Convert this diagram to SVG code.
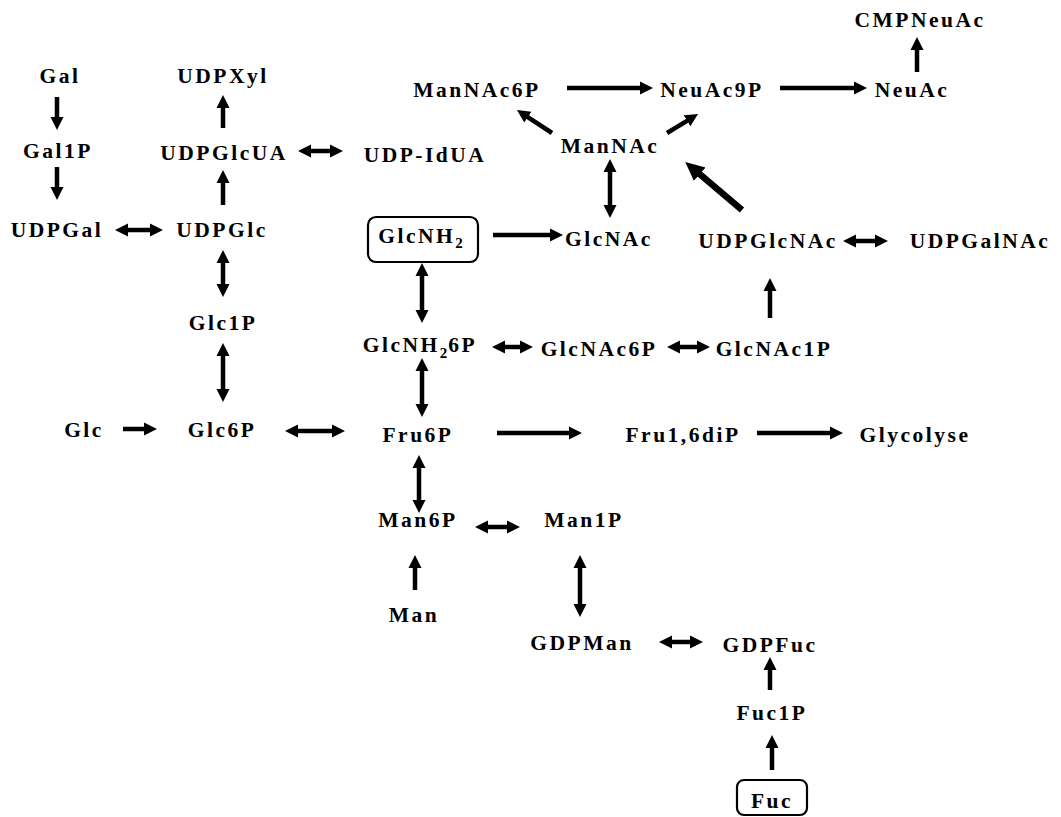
<svg xmlns="http://www.w3.org/2000/svg" width="1061" height="817" viewBox="0 0 1061 817">
  <defs>
    <style>
      text { font-family: "Liberation Serif", "Times New Roman", serif; font-weight: bold; font-size: 21.5px; letter-spacing: 2.5px; fill: #000; text-anchor: middle; }
      .sub { font-size: 15px; letter-spacing: 1px; }
      .box { fill: none; stroke: #000; stroke-width: 2.2; }
      .arr { stroke: #000; stroke-width: 4.5; fill: none; marker-end: url(#head); }
      .dbl { stroke: #000; stroke-width: 4.5; fill: none; marker-start: url(#head); marker-end: url(#head); }
      .big { stroke: #000; stroke-width: 6.5; fill: none; marker-end: url(#bighead); }
    </style>
    <marker id="head" viewBox="0 -7 14 14" refX="1" refY="0" markerWidth="14" markerHeight="14" markerUnits="userSpaceOnUse" orient="auto-start-reverse">
      <path d="M0,-6.5 L13,0 L0,6.5 z" fill="#000"/>
    </marker>
    <marker id="bighead" viewBox="0 -10 20 20" refX="1" refY="0" markerWidth="20" markerHeight="20" markerUnits="userSpaceOnUse" orient="auto">
      <path d="M0,-9 L19,0 L0,9 z" fill="#000"/>
    </marker>
  </defs>
  <rect width="1061" height="817" fill="#fff"/>

  <!-- connectors -->
  <g id="connectors">
    <!-- single-headed -->
    <line class="arr" x1="57" y1="97" x2="57" y2="118"/>
    <line class="arr" x1="57" y1="167" x2="57" y2="188"/>
    <line class="arr" x1="223" y1="205" x2="223" y2="182"/>
    <line class="arr" x1="223" y1="128" x2="223" y2="107"/>
    <line class="arr" x1="917" y1="72" x2="917" y2="49"/>
    <line class="arr" x1="770" y1="318" x2="770" y2="290"/>
    <line class="arr" x1="415" y1="590" x2="415" y2="567"/>
    <line class="arr" x1="770" y1="690" x2="770" y2="669"/>
    <line class="arr" x1="772" y1="770" x2="772" y2="747"/>
    <line class="arr" x1="123" y1="429" x2="145" y2="429"/>
    <line class="arr" x1="493" y1="235" x2="551" y2="235"/>
    <line class="arr" x1="567" y1="88" x2="641" y2="88"/>
    <line class="arr" x1="780" y1="88" x2="855" y2="88"/>
    <line class="arr" x1="497" y1="433" x2="570" y2="433"/>
    <line class="arr" x1="757" y1="433" x2="831" y2="433"/>
    <line class="arr" x1="552" y1="133" x2="527" y2="116.6"/>
    <line class="arr" x1="667" y1="133" x2="687.8" y2="120.3"/>
    <line class="big" x1="742" y1="210" x2="699" y2="173.6"/>
    <!-- double-headed -->
    <line class="dbl" x1="223" y1="262" x2="223" y2="285"/>
    <line class="dbl" x1="223" y1="355" x2="223" y2="390"/>
    <line class="dbl" x1="422" y1="275" x2="422" y2="311"/>
    <line class="dbl" x1="422" y1="370" x2="422" y2="405"/>
    <line class="dbl" x1="610" y1="171" x2="610" y2="206"/>
    <line class="dbl" x1="419" y1="467" x2="419" y2="501"/>
    <line class="dbl" x1="580" y1="567" x2="580" y2="605"/>
    <line class="dbl" x1="127" y1="230" x2="151" y2="230"/>
    <line class="dbl" x1="310" y1="151" x2="331" y2="151"/>
    <line class="dbl" x1="855" y1="241" x2="876" y2="241"/>
    <line class="dbl" x1="504" y1="347" x2="521" y2="347"/>
    <line class="dbl" x1="679" y1="347" x2="698" y2="347"/>
    <line class="dbl" x1="297" y1="431" x2="333" y2="431"/>
    <line class="dbl" x1="487" y1="527" x2="508" y2="527"/>
    <line class="dbl" x1="671" y1="642" x2="691" y2="642"/>
  </g>

  <!-- nodes -->
  <g id="n-CMPNeuAc"><text x="920" y="27">CMPNeuAc</text></g>
  <g id="n-Gal"><text x="60" y="83">Gal</text></g>
  <g id="n-UDPXyl"><text x="223" y="83">UDPXyl</text></g>
  <g id="n-ManNAc6P"><text x="477" y="97">ManNAc6P</text></g>
  <g id="n-NeuAc9P"><text x="712" y="97">NeuAc9P</text></g>
  <g id="n-NeuAc"><text x="912" y="97">NeuAc</text></g>
  <g id="n-Gal1P"><text x="58" y="158">Gal1P</text></g>
  <g id="n-UDPGlcUA"><text x="224" y="160">UDPGlcUA</text></g>
  <g id="n-UDP-IdUA"><text x="425" y="162">UDP-IdUA</text></g>
  <g id="n-ManNAc"><text x="610" y="153">ManNAc</text></g>
  <g id="n-UDPGal"><text x="57" y="237">UDPGal</text></g>
  <g id="n-UDPGlc"><text x="222" y="237">UDPGlc</text></g>
  <g id="n-GlcNH2">
    <rect class="box" x="368" y="217" width="110" height="45" rx="8"/>
    <text x="421" y="243">GlcNH<tspan class="sub" dy="5">2</tspan></text>
  </g>
  <g id="n-GlcNAc"><text x="609" y="246">GlcNAc</text></g>
  <g id="n-UDPGlcNAc"><text x="768" y="248">UDPGlcNAc</text></g>
  <g id="n-UDPGalNAc"><text x="980" y="248">UDPGalNAc</text></g>
  <g id="n-Glc1P"><text x="223" y="330">Glc1P</text></g>
  <g id="n-GlcNH26P"><text x="420" y="352">GlcNH<tspan class="sub" dy="6">2</tspan><tspan dy="-6">6P</tspan></text></g>
  <g id="n-GlcNAc6P"><text x="599" y="356">GlcNAc6P</text></g>
  <g id="n-GlcNAc1P"><text x="774" y="356">GlcNAc1P</text></g>
  <g id="n-Glc"><text x="84" y="437">Glc</text></g>
  <g id="n-Glc6P"><text x="222" y="437">Glc6P</text></g>
  <g id="n-Fru6P"><text x="418" y="442">Fru6P</text></g>
  <g id="n-Fru16diP"><text x="683" y="442">Fru1,6diP</text></g>
  <g id="n-Glycolyse"><text x="915" y="442">Glycolyse</text></g>
  <g id="n-Man6P"><text x="418" y="527">Man6P</text></g>
  <g id="n-Man1P"><text x="584" y="527">Man1P</text></g>
  <g id="n-Man"><text x="414" y="622">Man</text></g>
  <g id="n-GDPMan"><text x="582" y="650">GDPMan</text></g>
  <g id="n-GDPFuc"><text x="770" y="652">GDPFuc</text></g>
  <g id="n-Fuc1P"><text x="772" y="720">Fuc1P</text></g>
  <g id="n-Fuc">
    <rect class="box" x="737" y="780" width="70" height="35" rx="7"/>
    <text x="772" y="808">Fuc</text>
  </g>
</svg>
